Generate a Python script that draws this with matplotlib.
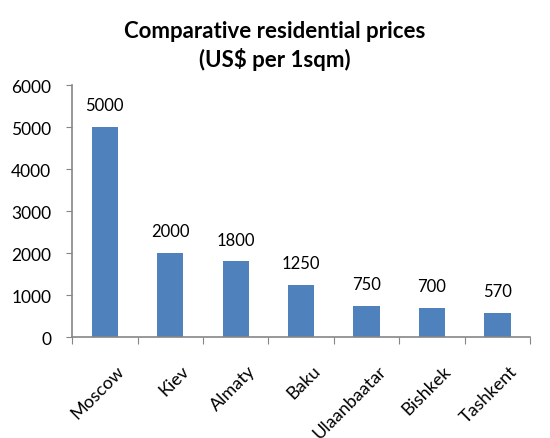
import numpy as np
import matplotlib.pyplot as plt

# 城市与每平方米住宅价格（美元）
cities = ['Moscow', 'Kiev', 'Almaty', 'Baku', 'Ulaanbaatar', 'Bishkek', 'Tashkent']
prices = [5000, 2000, 1800, 1250, 750, 700, 570]
yticks = [0, 1000, 2000, 3000, 4000, 5000, 6000]

plt.rcParams['font.family'] = ['Lato', 'DejaVu Sans']

fig = plt.figure(figsize=(5.5, 4.39), dpi=100)
ax = fig.add_axes([0.131, 0.230, 0.833, 0.574])

x = np.arange(len(cities))
bars = ax.bar(x, prices, width=0.4, color='#4f81bd', zorder=2)

# 柱顶数值标签
for xi, v in zip(x, prices):
    ax.annotate(str(v), (xi, v), xytext=(0, 10), textcoords='offset points',
                ha='center', va='bottom', fontsize=12)

ax.set_xlim(-0.5, len(cities) - 0.5)
ax.set_ylim(0, 6000)
ax.set_yticks(yticks)
ax.tick_params(axis='y', labelsize=12.5, length=4, color='#868686', pad=11)

# x 轴刻度放在类别之间
ax.set_xticks(np.arange(len(cities) + 1) - 0.5)
ax.set_xticklabels([])
ax.tick_params(axis='x', length=5, color='#868686')
for xi, name in zip(x, cities):
    ax.text(xi + 0.17, -600, name, rotation=45, ha='right', va='top',
            rotation_mode='anchor', fontsize=13, transform=ax.transData,
            clip_on=False)

for s in ['top', 'right']:
    ax.spines[s].set_visible(False)
for s in ['left', 'bottom']:
    ax.spines[s].set_color('#868686')
    ax.spines[s].set_linewidth(1.2)

fig.text(0.5, 0.895, 'Comparative residential prices\n(US$ per 1sqm)',
         ha='center', va='center', fontsize=16, fontweight='bold',
         linespacing=1.3)

fig.savefig('out.png', dpi=100)
